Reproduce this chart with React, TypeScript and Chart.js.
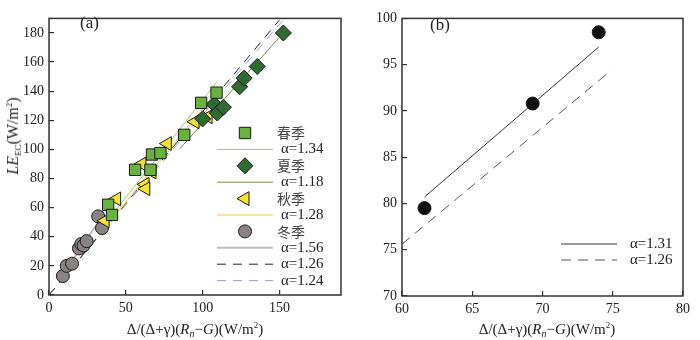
import React, { useEffect, useRef } from "react";
import { Chart, registerables } from "chart.js";

Chart.register(...registerables);

// ---------- Panel (a) data ----------
const springX = [38.5, 41, 56, 66, 67, 72.5, 88, 99, 109];
const springY = [62, 55, 86, 86, 96.5, 97.5, 110, 132, 139];
const summerX = [100, 107.5, 109.5, 113.5, 124, 127, 135.5, 152.5];
const summerY = [121, 131, 125, 129, 143, 149, 157, 180];
const autumnX = [36.5, 44, 60.5, 62.5, 63, 67, 77, 95, 103.5];
const autumnY = [51, 66, 90, 76, 73, 84.5, 104, 119, 122.5];
const winterX = [9, 11.5, 15, 19.5, 21, 22.5, 24.5, 34.5, 32];
const winterY = [13, 20, 21.5, 32, 35, 34, 37, 46, 54];

// fitted lines (endpoints)
const springLineX = [38, 109];
const springLineY = [51, 146];
const summerLineX = [85, 152.5];
const summerLineY = [100.3, 180];
const autumnLineX = [36, 104];
const autumnLineY = [46, 133];
const winterLineX = [8, 35];
const winterLineY = [12.5, 54.6];
const all126LineX = [0, 150];
const all126LineY = [0, 189];
const all124LineX = [0, 152];
const all124LineY = [0, 188.5];

const seasonNames = ["春季", "夏季", "秋季", "冬季"];
const alphaLabelsA = ["α=1.34", "α=1.18", "α=1.28", "α=1.56", "α=1.26", "α=1.24"];

const xTicksA = [0, 50, 100, 150];
const yTicksA = [0, 20, 40, 60, 80, 100, 120, 140, 160, 180];

// ---------- Panel (b) data ----------
const annualX = [61.6, 69.3, 74.0];
const annualY = [79.5, 90.8, 98.5];
const line131X = [61.6, 74.0];
const line131Y = [80.7, 96.9];
const line126X = [60, 74.9];
const line126Y = [75.6, 94.4];
const alphaLabelsB = ["α=1.31", "α=1.26"];

const xTicksB = [60, 65, 70, 75, 80];
const yTicksB = [70, 75, 80, 85, 90, 95, 100];

const SERIF = "'Liberation Serif', 'Times New Roman', serif";
const CJK = "'Noto Sans CJK SC', 'Liberation Serif', sans-serif";
const TEXT = "#222";
const AXIS = "#333";

const pts = (xs: number[], ys: number[]) => xs.map((x, i) => ({ x, y: ys[i] }));

function drawMarker(ctx: CanvasRenderingContext2D, kind: string, x: number, y: number, fill: string) {
  ctx.save();
  ctx.fillStyle = fill;
  ctx.strokeStyle = "#1a1a1a";
  ctx.lineWidth = 1;
  ctx.beginPath();
  if (kind === "rect") {
    const s = 5.7;
    ctx.rect(x - s, y - s, 2 * s, 2 * s);
  } else if (kind === "rectRot") {
    const r = 8;
    ctx.moveTo(x - r, y);
    ctx.lineTo(x, y - r);
    ctx.lineTo(x + r, y);
    ctx.lineTo(x, y + r);
    ctx.closePath();
  } else if (kind === "triangle") {
    const r = 8;
    ctx.moveTo(x - r, y);
    ctx.lineTo(x + r / 2, y - r * 0.866);
    ctx.lineTo(x + r / 2, y + r * 0.866);
    ctx.closePath();
  } else {
    ctx.arc(x, y, 6.5, 0, Math.PI * 2);
  }
  ctx.fill();
  ctx.stroke();
  ctx.restore();
}

const framePlugin = {
  id: "frame",
  afterDraw(chart: any) {
    const { ctx, chartArea: a } = chart;
    ctx.save();
    ctx.strokeStyle = AXIS;
    ctx.lineWidth = 1.5;
    ctx.strokeRect(a.left, a.top, a.right - a.left, a.bottom - a.top);
    ctx.restore();
  },
};

type LegendRow =
  | { kind: "point"; marker: string; fill: string; label: string }
  | { kind: "line"; color: string; width: number; dash: number[]; label: string };

function makeLegendPlugin(id: string, rows: LegendRow[], opts: { y0: number; step: number; iconX: number; nameX: number; lineX0: number; lineX1: number; alphaX: number }) {
  return {
    id,
    afterDraw(chart: any) {
      const ctx: CanvasRenderingContext2D = chart.ctx;
      ctx.save();
      ctx.textBaseline = "middle";
      ctx.textAlign = "left";
      rows.forEach((r, i) => {
        const y = opts.y0 + i * opts.step;
        if (r.kind === "point") {
          drawMarker(ctx, r.marker, opts.iconX, y, r.fill);
          ctx.font = `14px ${CJK}`;
          ctx.fillStyle = "#444";
          ctx.fillText(r.label, opts.nameX, y);
        } else {
          ctx.save();
          ctx.strokeStyle = r.color;
          ctx.lineWidth = r.width;
          ctx.setLineDash(r.dash);
          ctx.beginPath();
          ctx.moveTo(opts.lineX0, y);
          ctx.lineTo(opts.lineX1, y);
          ctx.stroke();
          ctx.restore();
          ctx.font = `15px ${SERIF}`;
          ctx.fillStyle = TEXT;
          ctx.fillText(r.label, opts.alphaX, y);
        }
      });
      ctx.restore();
    },
  };
}

const COL = {
  spring: "#69b23f",
  summer: "#2f6b31",
  autumn: "#f3e430",
  winter: "#8a8383",
  springLine: "#9ccc6a",
  summerLine: "#6e8c4c",
  autumnLine: "#f2dc86",
  winterLine: "#bdbdbd",
  black: "#222",
  lavender: "#9c9ccf",
};

function scaleOpts(min: number, max: number, ticks: number[], fitSize: number, isX: boolean) {
  return {
    type: "linear",
    min,
    max,
    afterBuildTicks: (s: any) => {
      s.ticks = ticks.map((v) => ({ value: v }));
    },
    afterFit: (s: any) => {
      if (isX) s.height = fitSize;
      else s.width = fitSize;
    },
    border: { display: false },
    grid: {
      drawOnChartArea: false,
      drawTicks: true,
      tickLength: -5,
      color: AXIS,
      lineWidth: 1.2,
    },
    ticks: {
      font: { family: SERIF, size: 14 },
      color: TEXT,
      padding: isX ? 10 : 10,
      autoSkip: false,
      maxRotation: 0,
    },
  };
}

function lineDs(xs: number[], ys: number[], color: string, width: number, dash: number[]) {
  return {
    type: "line",
    data: pts(xs, ys),
    borderColor: color,
    borderWidth: width,
    borderDash: dash,
    pointRadius: 0,
    showLine: true,
    fill: false,
    order: 2,
  };
}

function pointDs(xs: number[], ys: number[], style: string, radius: number, fill: string, rotation = 0) {
  return {
    type: "scatter",
    data: pts(xs, ys),
    pointStyle: style,
    pointRadius: radius,
    pointRotation: rotation,
    backgroundColor: fill,
    borderColor: "#1a1a1a",
    borderWidth: 1,
    order: 1,
  };
}

function PanelA() {
  const ref = useRef<HTMLCanvasElement>(null);
  useEffect(() => {
    const legend = makeLegendPlugin(
      "legendA",
      [
        { kind: "point", marker: "rect", fill: COL.spring, label: seasonNames[0] },
        { kind: "line", color: COL.springLine, width: 1, dash: [], label: alphaLabelsA[0] },
        { kind: "point", marker: "rectRot", fill: COL.summer, label: seasonNames[1] },
        { kind: "line", color: COL.summerLine, width: 1, dash: [], label: alphaLabelsA[1] },
        { kind: "point", marker: "triangle", fill: COL.autumn, label: seasonNames[2] },
        { kind: "line", color: COL.autumnLine, width: 1.5, dash: [], label: alphaLabelsA[2] },
        { kind: "point", marker: "circle", fill: COL.winter, label: seasonNames[3] },
        { kind: "line", color: COL.winterLine, width: 2, dash: [], label: alphaLabelsA[3] },
        { kind: "line", color: COL.black, width: 1, dash: [9, 7], label: alphaLabelsA[4] },
        { kind: "line", color: COL.lavender, width: 1, dash: [9, 7], label: alphaLabelsA[5] },
      ],
      { y0: 133, step: 16.4, iconX: 245, nameX: 277, lineX0: 217, lineX1: 273, alphaX: 281 }
    );
    const chart = new Chart(ref.current as HTMLCanvasElement, {
      type: "scatter",
      data: {
        datasets: [
          pointDs(springX, springY, "rect", 8, COL.spring),
          pointDs(summerX, summerY, "rectRot", 8, COL.summer),
          pointDs(autumnX, autumnY, "triangle", 8, COL.autumn, -90),
          pointDs(winterX, winterY, "circle", 6.5, COL.winter),
          lineDs(springLineX, springLineY, COL.springLine, 1, []),
          lineDs(summerLineX, summerLineY, COL.summerLine, 1, []),
          lineDs(autumnLineX, autumnLineY, COL.autumnLine, 1.5, []),
          lineDs(winterLineX, winterLineY, COL.winterLine, 2, []),
          lineDs(all126LineX, all126LineY, COL.black, 1, [9, 7]),
          lineDs(all124LineX, all124LineY, COL.lavender, 1, [9, 7]),
        ] as any,
      },
      options: {
        animation: false,
        responsive: false,
        devicePixelRatio: 1,
        layout: { padding: { left: 0, right: 9, top: 5, bottom: 0 } },
        plugins: { legend: { display: false }, tooltip: { enabled: false } },
        scales: {
          x: scaleOpts(0, 190, xTicksA, 45, true),
          y: scaleOpts(0, 190, yTicksA, 49, false),
        } as any,
      },
      plugins: [framePlugin, legend],
    });
    return () => chart.destroy();
  }, []);
  return <canvas ref={ref} width={350} height={340} style={{ position: "absolute", left: 0, top: 0 }} />;
}

function PanelB() {
  const ref = useRef<HTMLCanvasElement>(null);
  useEffect(() => {
    const legend = makeLegendPlugin(
      "legendB",
      [
        { kind: "line", color: "#333", width: 1, dash: [], label: alphaLabelsB[0] },
        { kind: "line", color: "#555", width: 1, dash: [10, 7], label: alphaLabelsB[1] },
      ],
      { y0: 244, step: 16, iconX: 0, nameX: 0, lineX0: 211, lineX1: 267, alphaX: 280 }
    );
    const chart = new Chart(ref.current as HTMLCanvasElement, {
      type: "scatter",
      data: {
        datasets: [
          pointDs(annualX, annualY, "circle", 6.5, "#111"),
          lineDs(line131X, line131Y, "#333", 1, []),
          lineDs(line126X, line126Y, "#555", 1, [10, 7]),
        ] as any,
      },
      options: {
        animation: false,
        responsive: false,
        devicePixelRatio: 1,
        layout: { padding: { left: 0, right: 9, top: 5, bottom: 0 } },
        plugins: { legend: { display: false }, tooltip: { enabled: false } },
        scales: {
          x: scaleOpts(60, 80, xTicksB, 44, true),
          y: scaleOpts(70, 100, yTicksB, 52, false),
        } as any,
      },
      plugins: [framePlugin, legend],
    });
    return () => chart.destroy();
  }, []);
  return <canvas ref={ref} width={350} height={340} style={{ position: "absolute", left: 350, top: 0 }} />;
}

const xTitle = (
  <>
    Δ/(Δ+γ)(<i>R</i>
    <sub style={{ fontSize: 10, fontStyle: "italic", verticalAlign: -3 }}>n</sub>−<i>G</i>)(W/m
    <sup style={{ fontSize: 9, verticalAlign: 6 }}>2</sup>)
  </>
);

export default function App() {
  const textBase: React.CSSProperties = {
    position: "absolute",
    fontFamily: SERIF,
    color: TEXT,
    whiteSpace: "nowrap",
    lineHeight: 1,
  };
  return (
    <div style={{ position: "fixed", left: 0, top: 0, width: 700, height: 340, background: "#fff", overflow: "hidden" }}>
      <PanelA />
      <PanelB />
      <div style={{ ...textBase, left: 80, top: 14, fontSize: 17 }}>(a)</div>
      <div style={{ ...textBase, left: 430, top: 16, fontSize: 17 }}>(b)</div>
      <div
        style={{
          ...textBase,
          left: 14,
          top: 136,
          fontSize: 16,
          transform: "translate(-50%, -50%) rotate(-90deg)",
        }}
      >
        <i>LE</i>
        <sub style={{ fontSize: 9, verticalAlign: -3 }}>EC</sub>(W/m
        <sup style={{ fontSize: 9, verticalAlign: 6 }}>2</sup>)
      </div>
      <div style={{ ...textBase, left: 195, top: 330, fontSize: 15, transform: "translate(-50%, -50%)" }}>{xTitle}</div>
      <div style={{ ...textBase, left: 547, top: 330, fontSize: 15, transform: "translate(-50%, -50%)" }}>{xTitle}</div>
    </div>
  );
}
